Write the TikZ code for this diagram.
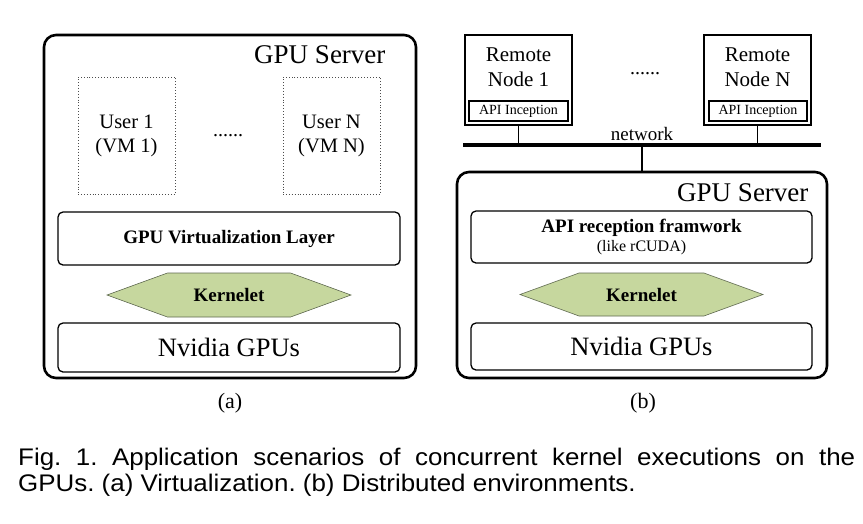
\documentclass[tikz,border=0pt]{standalone}
\usepackage{fontspec}
\setmainfont{Liberation Serif}
\newfontfamily\capfont[FakeStretch=1.08]{Liberation Sans}
\usetikzlibrary{shapes.symbols}
\definecolor{kerngreen}{RGB}{198,215,158}
\definecolor{kernedge}{RGB}{95,105,80}

\begin{document}
\begin{tikzpicture}
    [%%%%%%%%%%%%%%%%%%%%%%%%%%%%%%
        x=1pt, y=-1pt,
        server/.style={rectangle,draw=black,line width=2.6pt,rounded corners=12pt,inner sep=0pt},
        layer/.style={rectangle,draw=black,line width=1.3pt,rounded corners=5pt,inner sep=0pt,
                      minimum width=342pt},
        user/.style={rectangle,draw=black!70,dotted,line width=0.9pt,minimum width=97pt,
                     minimum height=117pt,align=center,font=\fontsize{20.5}{24}\selectfont},
        kern/.style={shape=signal,signal to=west and east,signal pointer angle=40,
                     fill=kerngreen,draw=kernedge,line width=0.6pt,inner sep=0pt,
                     minimum width=244pt,minimum height=44pt,font=\fontsize{19}{22}\selectfont\bfseries},
        remote/.style={rectangle,draw=black,line width=1.2pt,minimum width=107pt,minimum height=90pt},
        api/.style={rectangle,draw=black,line width=1.1pt,minimum width=99pt,minimum height=20pt,
                    inner sep=0pt,font=\fontsize{14}{16}\selectfont},
    ]%%%%%%%%%%%%%%%%%%%%%%%%%%%%%%

\useasboundingbox (0,0) rectangle (863,523);

% (a) virtualization
\node[server,minimum width=372pt,minimum height=343pt] (srva) at (230,206.5){};
\node[anchor=base east,font=\fontsize{27}{30}\selectfont] (srvalbl) at (389,63){GPU Server};
\node[user] (usr1) at (126.5,135.5){User 1\\(VM 1)};
\node[user] (usrn) at (331.5,135.5){User N\\(VM N)};
\node[font=\fontsize{20}{24}\selectfont] (dotsa) at (228,136){......};
\node[layer,minimum height=53pt,font=\fontsize{19}{22}\selectfont\bfseries] (virt) at (229,238.5){GPU Virtualization Layer};
\node[kern] (kerna) at (229,295){Kernelet};
\node[layer,minimum height=49pt,font=\fontsize{26.5}{28}\selectfont] (gpua) at (229,347.5){Nvidia GPUs};
\node[font=\fontsize{22}{26}\selectfont] (suba) at (230,403){(a)};

% (b) distributed
\node[remote] (rn1) at (518.5,80){};
\node[align=center,font=\fontsize{21}{25}\selectfont] (rn1lbl) at (518.5,67){Remote\\Node 1};
\node[api] (api1) at (518.5,111){API Inception};
\node[remote] (rnn) at (757.5,80){};
\node[align=center,font=\fontsize{21}{25}\selectfont] (rnnlbl) at (757.5,67){Remote\\Node N};
\node[api,minimum width=98pt] (apin) at (758,111){API Inception};
\node[font=\fontsize{20}{24}\selectfont] (dotsb) at (645,74){......};

\node[rectangle,fill=black,inner sep=0pt,minimum width=358pt,minimum height=4.5pt] (net) at (642,145){};
\node[anchor=base,font=\fontsize{19}{22}\selectfont] (netlbl) at (642,140){network};

\node[server,minimum width=370pt,minimum height=206pt] (srvb) at (642,275){};
\node[anchor=base east,font=\fontsize{27}{30}\selectfont] (srvblbl) at (812,201){GPU Server};
\node[layer,minimum width=341pt,minimum height=52pt,align=center] (apir) at (641.5,237)
    {{\fontsize{19}{24}\selectfont\bfseries API reception framwork}\\[3pt]
     {\fontsize{16}{18}\selectfont (like rCUDA)}};
\node[kern,minimum width=243pt,minimum height=43pt] (kernb) at (641.5,294.5){Kernelet};
\node[layer,minimum width=341pt,minimum height=47pt,font=\fontsize{26.5}{28}\selectfont] (gpub) at (641.5,346.5){Nvidia GPUs};
\node[font=\fontsize{22}{26}\selectfont] (subb) at (643,403){(b)};

\draw[line width=1.3pt] (rn1.south) -- (rn1.south |- net.north);
\draw[line width=1.3pt] (rnn.south) -- (rnn.south |- net.north);
\draw[line width=1.3pt] (net.south) -- (srvb.north);

% caption
\node[anchor=base west,inner sep=0pt,text width=837pt,align=justify,
      font=\capfont\fontsize{24}{26}\selectfont\frenchspacing] (caption) at (18,465)
    {Fig. 1. Application scenarios of concurrent kernel executions on the\linebreak
     GPUs. (a) Virtualization. (b) Distributed environments.};
\end{tikzpicture}
\end{document}
